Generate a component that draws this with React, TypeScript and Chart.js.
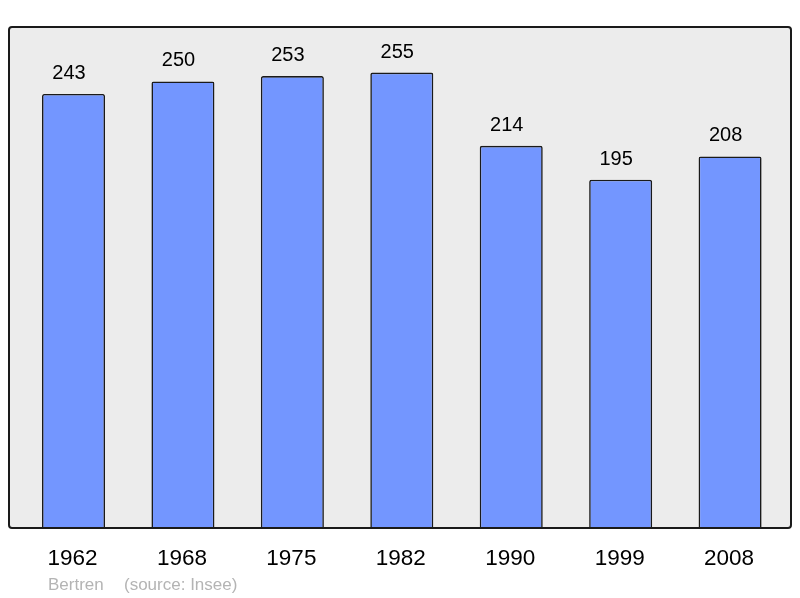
import React, { useEffect, useRef } from "react";
import { Chart, registerables } from "chart.js";

Chart.register(...registerables);

const categories = ["1962", "1968", "1975", "1982", "1990", "1999", "2008"];
const populationValues = [243, 250, 253, 255, 214, 195, 208];
const communeName = "Bertren";
const sourceLabel = "(source: Insee)";

function framePath(ctx: CanvasRenderingContext2D, x0: number, y0: number, x1: number, y1: number, r: number) {
  ctx.beginPath();
  ctx.moveTo(x0 + r, y0);
  ctx.lineTo(x1 - r, y0);
  ctx.quadraticCurveTo(x1, y0, x1, y0 + r);
  ctx.lineTo(x1, y1 - r);
  ctx.quadraticCurveTo(x1, y1, x1 - r, y1);
  ctx.lineTo(x0 + r, y1);
  ctx.quadraticCurveTo(x0, y1, x0, y1 - r);
  ctx.lineTo(x0, y0 + r);
  ctx.quadraticCurveTo(x0, y0, x0 + r, y0);
  ctx.closePath();
}

const framePlugin = {
  id: "frameAndLabels",
  beforeDraw(chart: any) {
    const { ctx, chartArea } = chart;
    ctx.save();
    framePath(ctx, 9, chartArea.top, 791, chartArea.bottom, 3);
    ctx.fillStyle = "#ececec";
    ctx.fill();
    ctx.restore();
  },
  afterDatasetsDraw(chart: any) {
    const { ctx, chartArea } = chart;
    ctx.save();
    framePath(ctx, 9, chartArea.top, 791, chartArea.bottom, 3);
    ctx.lineWidth = 2;
    ctx.strokeStyle = "#1a1a1a";
    ctx.stroke();

    const xScale = chart.scales.x;
    const yScale = chart.scales.y;
    ctx.fillStyle = "#000";
    ctx.textAlign = "center";
    ctx.textBaseline = "alphabetic";
    ctx.font = "20px 'Liberation Sans', Arial, sans-serif";
    populationValues.forEach((v, i) => {
      const x = xScale.getPixelForValue(i);
      const y = yScale.getPixelForValue(v);
      ctx.fillText(String(v), x - 4.5, y - 15);
    });
    ctx.font = "22.5px 'Liberation Sans', Arial, sans-serif";
    categories.forEach((c, i) => {
      const x = xScale.getPixelForValue(i);
      ctx.fillText(c, x - 1, 565);
    });
    ctx.textAlign = "left";
    ctx.fillStyle = "#b4b4b4";
    ctx.font = "17px 'Liberation Sans', Arial, sans-serif";
    ctx.fillText(communeName, 48, 590);
    ctx.fillText(sourceLabel, 124, 590);
    ctx.restore();
  },
};

export default function App() {
  const ref = useRef<HTMLCanvasElement | null>(null);
  useEffect(() => {
    document.body.style.margin = "0";
    if (!ref.current) return;
    const chart = new Chart(ref.current, {
      type: "bar",
      data: {
        labels: categories,
        datasets: [
          {
            data: populationValues,
            backgroundColor: "#7396ff",
            borderColor: "#1a1a1a",
            borderWidth: 1.6,
            borderRadius: 2,
            borderSkipped: "bottom",
            barPercentage: 0.576,
            categoryPercentage: 1,
          },
        ],
      },
      options: {
        responsive: false,
        animation: false,
        layout: { padding: { left: 18.8, right: 15.2, top: 27, bottom: 70 } },
        plugins: { legend: { display: false }, tooltip: { enabled: false } },
        scales: {
          x: { display: false, offset: true },
          y: { display: false, min: 0, max: 280.5 },
        },
      },
      plugins: [framePlugin],
    });
    return () => chart.destroy();
  }, []);
  return (
    <div style={{ position: "absolute", left: 0, top: 0, width: 800, height: 598 }}>
      <canvas ref={ref} width={800} height={598} />
    </div>
  );
}
